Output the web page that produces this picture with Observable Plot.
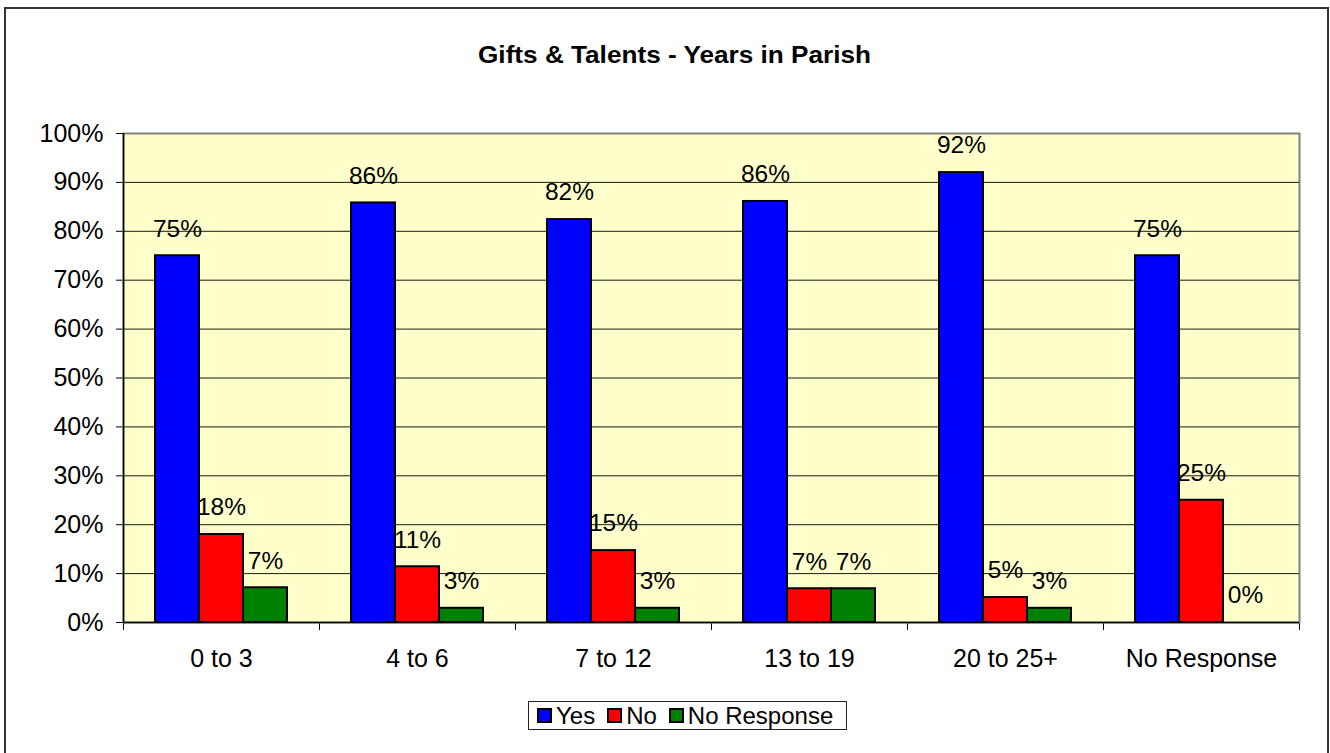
<!DOCTYPE html>
<html>
<head>
<meta charset="utf-8">
<script src="https://cdn.jsdelivr.net/npm/d3@7"></script>
<script src="https://cdn.jsdelivr.net/npm/@observablehq/plot@0.6"></script>
<style>
  body { margin: 0; overflow: hidden; background: #fff; }
  #wrap { position: relative; width: 1330px; height: 753px; overflow: hidden; font-family: "Liberation Sans", Arial, sans-serif; color: #000; }
  #border { position: absolute; left: 4px; top: 7px; width: 1325px; height: 780px; border: 2px solid #333; box-sizing: border-box; }
  #title { position: absolute; top: 43px; left: 0; width: 1349px; text-align: center; font-weight: bold; font-size: 24px; line-height: 24px; transform: scaleX(1.09); transform-origin: 674px 0; white-space: nowrap; }
  .layer { position: absolute; left: 0; top: 0; }
  #legend { position: absolute; left: 528px; top: 701px; width: 319px; height: 29px; border: 1px solid #222; box-sizing: border-box; background: #fff; display: flex; align-items: center; font-size: 24px; padding-left: 8px; white-space: nowrap; }
  .sw { width: 15px; height: 15px; border: 2px solid #000; box-sizing: border-box; display: inline-block; margin-right: 4px; flex: none; }
  .it { display: flex; align-items: center; margin-right: 12px; }
</style>
</head>
<body>
<div id="wrap">
  <div id="border"></div>
  <div id="base" class="layer"></div>
  <div id="main" class="layer"></div>
  <div id="title"></div>
  <div id="legend"></div>
</div>
<script>
// ---- data ----
const titleText = "Gifts & Talents - Years in Parish";
const categories = ["0 to 3", "4 to 6", "7 to 12", "13 to 19", "20 to 25+", "No Response"];
const series = ["Yes", "No", "No Response"];
const yesValues = [75, 85.8, 82.4, 86.1, 92, 75];
const noValues = [18, 11.4, 14.7, 6.9, 5.1, 25];
const noResponseValues = [7.1, 2.9, 2.9, 6.9, 2.9, 0];
const yTicks = [0, 10, 20, 30, 40, 50, 60, 70, 80, 90, 100];
const colors = ["#0000FF", "#FF0000", "#008000"];

// ---- layout ----
const W = 1330, H = 753;
const M = { marginLeft: 123, marginRight: 31, marginTop: 133, marginBottom: 131 };
const font = "'Liberation Sans', Arial, sans-serif";

const seriesValues = [yesValues, noValues, noResponseValues];
const rows = categories.flatMap((c, i) =>
  series.map((s, j) => ({ category: c, series: s, value: seriesValues[j][i] }))
);

// background layer: plot area, grid, y axis, category boundary ticks
const base = Plot.plot({
  width: W, height: H, ...M,
  style: { fontFamily: font, fontSize: "25px", background: "transparent", color: "#000" },
  x: { domain: [0, categories.length], ticks: d3.range(categories.length + 1), tickSize: 8, tickFormat: () => "", label: null },
  y: { domain: [0, 100], ticks: yTicks, tickSize: 7, tickPadding: 13, tickFormat: d => d + "%", label: null },
  marks: [
    Plot.frame({ fill: "#FFFFCC", stroke: "#808080", strokeWidth: 2 }),
    Plot.ruleY(yTicks.filter(d => d > 0 && d < 100), { stroke: "#000", strokeWidth: 1, strokeOpacity: 0.9 }),
    Plot.ruleX([0], { stroke: "#000", strokeWidth: 1.5 }),
    Plot.ruleY([0], { stroke: "#000", strokeWidth: 1.5 })
  ]
});
document.getElementById("base").append(base);

// bars layer
const main = Plot.plot({
  width: W, height: H, ...M,
  style: { fontFamily: font, fontSize: "25px", background: "transparent", color: "#000" },
  facet: { data: rows, x: "category" },
  fx: { domain: categories, padding: 0, axis: "bottom", label: null, tickSize: 0, tickPadding: 27 },
  x: { domain: series, paddingInner: 0, paddingOuter: 0.727, axis: null },
  y: { domain: [0, 100], axis: null },
  color: { domain: series, range: colors },
  marks: [
    Plot.barY(rows, { x: "series", y: "value", fill: "series", stroke: "#000", strokeWidth: 2 }),
    Plot.text(rows, { x: "series", y: "value", text: d => Math.round(d.value) + "%", dy: -27, fontSize: 24.5, fill: "#000" })
  ]
});
document.getElementById("main").append(main);

// title
document.getElementById("title").textContent = titleText;

// legend
const legend = document.getElementById("legend");
series.forEach((s, j) => {
  const it = document.createElement("span");
  it.className = "it";
  const sw = document.createElement("span");
  sw.className = "sw";
  sw.style.background = colors[j];
  const t = document.createElement("span");
  t.textContent = s;
  it.append(sw, t);
  legend.append(it);
});
</script>
</body>
</html>
